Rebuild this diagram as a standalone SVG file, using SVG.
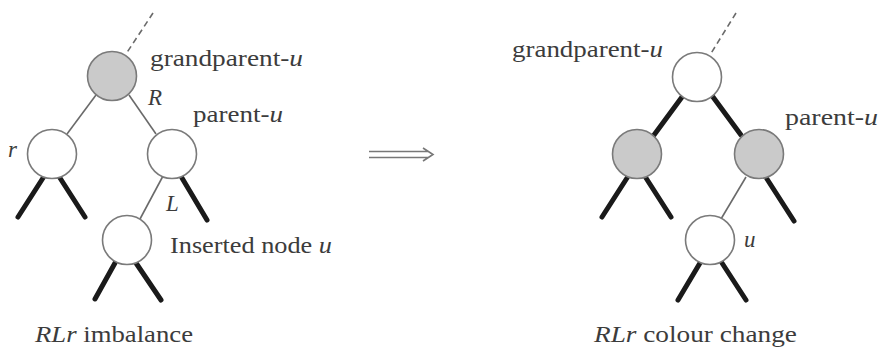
<svg xmlns="http://www.w3.org/2000/svg" width="882" height="351" viewBox="0 0 882 351">
<style>
.n{fill:#fff;stroke:#7a7a7a;stroke-width:1.6}
.g{fill:#cacaca}
.thin{stroke:#6a6a6a;stroke-width:1.6;fill:none}
.thick{stroke:#1a1a1a;stroke-width:5;stroke-linecap:round;fill:none}
.dash{stroke:#6a6a6a;stroke-width:1.6;stroke-dasharray:6 4;fill:none}
text{font-family:"Liberation Serif","Times New Roman",serif;font-size:23px;fill:#3c3c3c}
.i{font-style:italic}
</style>
<rect width="882" height="351" fill="#fff"/>
<g id="connectors">
<line class="dash" x1="153" y1="13" x2="126" y2="54"/>
<line class="thin" x1="96" y1="95" x2="67" y2="134"/>
<line class="thin" x1="129" y1="95" x2="156" y2="134"/>
<line class="thick" x1="43" y1="178" x2="18" y2="217"/>
<line class="thick" x1="60" y1="178" x2="85" y2="217"/>
<line class="thin" x1="163" y1="176" x2="140" y2="219"/>
<line class="thick" x1="182" y1="178" x2="207" y2="220"/>
<line class="thick" x1="115" y1="263" x2="95" y2="299"/>
<line class="thick" x1="136" y1="263" x2="161" y2="300"/>
<line class="dash" x1="736" y1="13" x2="710" y2="55"/>
<line class="thick" x1="682" y1="97" x2="654" y2="135"/>
<line class="thick" x1="713" y1="97" x2="741" y2="135"/>
<line class="thick" x1="627" y1="178" x2="602" y2="217"/>
<line class="thick" x1="646" y1="178" x2="671" y2="217"/>
<line class="thin" x1="746" y1="177" x2="721" y2="219"/>
<line class="thick" x1="767" y1="179" x2="794" y2="221"/>
<line class="thick" x1="700" y1="263" x2="678" y2="300"/>
<line class="thick" x1="722" y1="263" x2="746" y2="300"/>
<path d="M369 151.5H429M369 157.5H429M423 148L433 154.5L423 161" fill="none" stroke="#777" stroke-width="1.6"/>
</g>
<g id="left-grandparent"><circle class="n g" cx="112" cy="76" r="24.5"/></g>
<g id="left-r"><circle class="n" cx="52" cy="154" r="24.5"/></g>
<g id="left-parent"><circle class="n" cx="172" cy="154" r="24.5"/></g>
<g id="left-inserted"><circle class="n" cx="127" cy="240" r="24.5"/></g>
<g id="right-grandparent"><circle class="n" cx="697" cy="77" r="24.5"/></g>
<g id="right-left"><circle class="n g" cx="637" cy="154" r="24.5"/></g>
<g id="right-parent"><circle class="n g" cx="759" cy="154" r="24.5"/></g>
<g id="right-u"><circle class="n" cx="710" cy="240" r="24.5"/></g>
<g id="labels">
<text x="150" y="66" textLength="153" lengthAdjust="spacingAndGlyphs">grandparent-<tspan class="i">u</tspan></text>
<text class="i" x="148" y="105">R</text>
<text x="193" y="122" textLength="90" lengthAdjust="spacingAndGlyphs">parent-<tspan class="i">u</tspan></text>
<text class="i" x="8" y="157">r</text>
<text class="i" x="166" y="211">L</text>
<text x="170" y="253" textLength="162" lengthAdjust="spacingAndGlyphs">Inserted node <tspan class="i">u</tspan></text>
<text x="35" y="342" textLength="158" lengthAdjust="spacingAndGlyphs"><tspan class="i">RLr</tspan> imbalance</text>
<text x="512" y="57" textLength="151" lengthAdjust="spacingAndGlyphs">grandparent-<tspan class="i">u</tspan></text>
<text x="785" y="125" textLength="93" lengthAdjust="spacingAndGlyphs">parent-<tspan class="i">u</tspan></text>
<text class="i" x="744" y="247">u</text>
<text x="594" y="342" textLength="203" lengthAdjust="spacingAndGlyphs"><tspan class="i">RLr</tspan> colour change</text>
</g>
</svg>
